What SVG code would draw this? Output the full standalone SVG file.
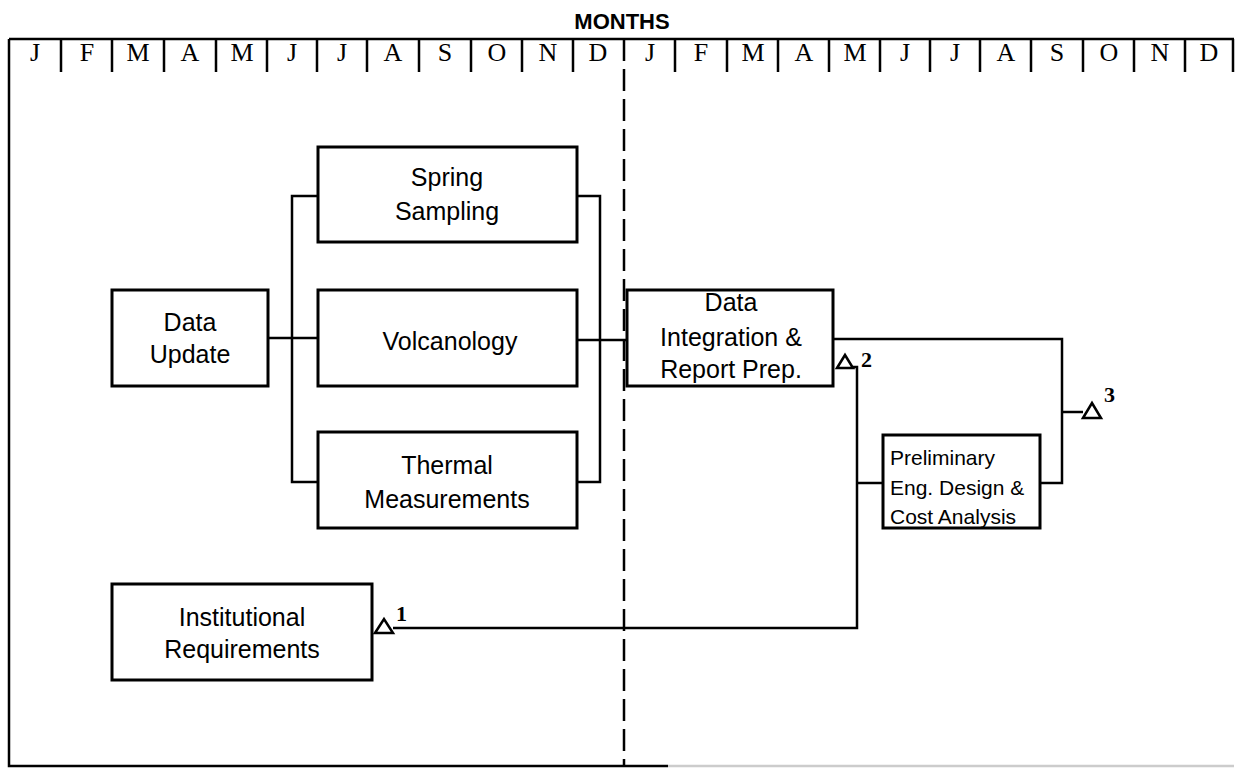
<svg xmlns="http://www.w3.org/2000/svg" width="1238" height="771" viewBox="0 0 1238 771">
<style>
.box{fill:#fff;stroke:#000;stroke-width:3}
.ln{fill:none;stroke:#000;stroke-width:2.5}
.frame{fill:none;stroke:#000;stroke-width:2.5}
.lbl{font-family:"Liberation Sans",Arial,sans-serif;font-size:25px;fill:#000;text-anchor:middle}
.sm{font-family:"Liberation Sans",Arial,sans-serif;font-size:21px;fill:#000}
.mo{font-family:"Liberation Serif","Times New Roman",serif;font-size:26px;fill:#000;text-anchor:middle}
.num{font-family:"Liberation Serif","Times New Roman",serif;font-size:22px;font-weight:bold;fill:#000}
.tri{fill:#fff;stroke:#000;stroke-width:2.5;stroke-linejoin:miter}
</style>
<rect width="1238" height="771" fill="#fff"/>
<g id="header">
<text x="622" y="29" font-family="Liberation Sans,Arial,sans-serif" font-size="22" font-weight="bold" text-anchor="middle">MONTHS</text>
<path class="frame" d="M9,39 H1234 M9,39 V766 H668"/>
<path d="M668,766 H1234" stroke="#ccc" stroke-width="2.5" fill="none"/>
<path class="frame" d="M61,39 V72 M112,39 V72 M164,39 V72 M216,39 V72 M267,39 V72 M317,39 V72 M367,39 V72 M419,39 V72 M471,39 V72 M522,39 V72 M573,39 V72 M675,39 V72 M727,39 V72 M778,39 V72 M829,39 V72 M880,39 V72 M930,39 V72 M980,39 V72 M1031,39 V72 M1083,39 V72 M1134,39 V72 M1185,39 V72 M1233,39 V72"/>
<path d="M624,39 V766" stroke="#000" stroke-width="2.5" stroke-dasharray="22,8" fill="none"/>
<text class="mo" x="35" y="61">J</text>
<text class="mo" x="87" y="61">F</text>
<text class="mo" x="138" y="61">M</text>
<text class="mo" x="190" y="61">A</text>
<text class="mo" x="242" y="61">M</text>
<text class="mo" x="292" y="61">J</text>
<text class="mo" x="342" y="61">J</text>
<text class="mo" x="393" y="61">A</text>
<text class="mo" x="445" y="61">S</text>
<text class="mo" x="497" y="61">O</text>
<text class="mo" x="548" y="61">N</text>
<text class="mo" x="598" y="61">D</text>
<text class="mo" x="650" y="61">J</text>
<text class="mo" x="701" y="61">F</text>
<text class="mo" x="753" y="61">M</text>
<text class="mo" x="804" y="61">A</text>
<text class="mo" x="855" y="61">M</text>
<text class="mo" x="905" y="61">J</text>
<text class="mo" x="955" y="61">J</text>
<text class="mo" x="1006" y="61">A</text>
<text class="mo" x="1057" y="61">S</text>
<text class="mo" x="1109" y="61">O</text>
<text class="mo" x="1160" y="61">N</text>
<text class="mo" x="1209" y="61">D</text>
</g>
<g id="connectors">
<path class="ln" d="M268,338 H318"/>
<path class="ln" d="M318,196 H292 V482 H318"/>
<path class="ln" d="M577,196 H600 V482 H577"/>
<path class="ln" d="M577,340 H627"/>
<path class="ln" d="M833,339 H1062 V483 H1040"/>
<path class="ln" d="M1062,412 H1083"/>
<path class="ln" d="M853,367 H857 V628 H393"/>
<path class="ln" d="M857,483 H883"/>
</g>
<g id="spring-sampling">
<rect class="box" x="318" y="147" width="259" height="95"/>
<text class="lbl" x="447" y="186">Spring</text>
<text class="lbl" x="447" y="220">Sampling</text>
</g>
<g id="data-update">
<rect class="box" x="112" y="290" width="156" height="96"/>
<text class="lbl" x="190" y="331">Data</text>
<text class="lbl" x="190" y="363">Update</text>
</g>
<g id="volcanology">
<rect class="box" x="318" y="290" width="259" height="96"/>
<text class="lbl" x="450" y="350">Volcanology</text>
</g>
<g id="thermal-measurements">
<rect class="box" x="318" y="432" width="259" height="96"/>
<text class="lbl" x="447" y="474">Thermal</text>
<text class="lbl" x="447" y="508">Measurements</text>
</g>
<g id="data-integration">
<rect class="box" x="627" y="290" width="206" height="96"/>
<text class="lbl" x="731" y="311">Data</text>
<text class="lbl" x="731" y="346">Integration &amp;</text>
<text class="lbl" x="731" y="378">Report Prep.</text>
</g>
<g id="preliminary-design">
<rect class="box" x="883" y="435" width="157" height="93"/>
<text class="sm" x="890" y="465">Preliminary</text>
<text class="sm" x="890" y="495">Eng. Design &amp;</text>
<text class="sm" x="890" y="524">Cost Analysis</text>
</g>
<g id="institutional-requirements">
<rect class="box" x="112" y="584" width="260" height="96"/>
<text class="lbl" x="242" y="626">Institutional</text>
<text class="lbl" x="242" y="658">Requirements</text>
</g>
<g id="milestone-1">
<polygon class="tri" points="375,633 384,619 393,633"/>
<text class="num" x="396" y="621">1</text>
</g>
<g id="milestone-2">
<polygon class="tri" points="837,368 845,355 853,368"/>
<text class="num" x="861" y="367">2</text>
</g>
<g id="milestone-3">
<polygon class="tri" points="1083,418 1092,403 1101,418"/>
<text class="num" x="1104" y="402">3</text>
</g>
</svg>
